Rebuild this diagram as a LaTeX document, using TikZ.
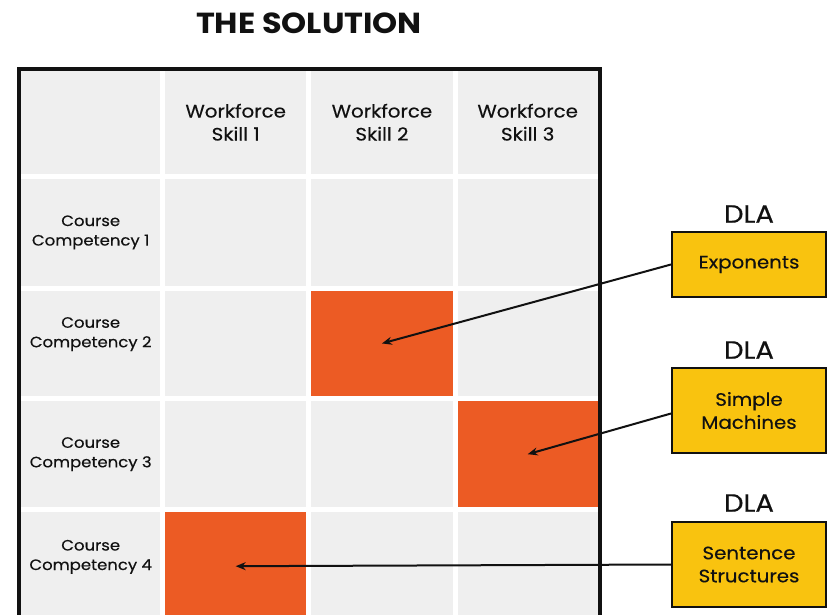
\documentclass[tikz,border=0pt]{standalone}
\usepackage{fontspec}
\setmainfont{Poppins}[FakeStretch=1.1,FakeBold=0.35]
\newfontfamily\titlefont{Poppins}[FakeStretch=1.1]
\usetikzlibrary{arrows.meta}
\definecolor{cellgrey}{HTML}{EFEFEF}
\definecolor{hot}{HTML}{EC5B24}
\definecolor{dlayellow}{HTML}{F9C30F}
\definecolor{ink}{HTML}{111111}
\begin{document}
\begin{tikzpicture}[x=1pt,y=-1pt,
  cell/.style={draw=none,fill=cellgrey,inner sep=0pt,anchor=north west,text=ink,align=center},
  hotcell/.style={cell,fill=hot},
  hdr/.style={font=\fontsize{18}{23}\selectfont},
  rowlab/.style={font=\fontsize{15}{19.5}\selectfont},
  dlabox/.style={draw=ink,line width=2pt,fill=dlayellow,minimum width=154pt,inner sep=0pt,align=center,text=ink,font=\fontsize{18}{23}\selectfont},
  dlalab/.style={text=ink,font=\fontsize{25}{28}\selectfont,inner sep=0pt},
  link/.style={draw=ink,line width=2pt,-{Stealth[length=10pt,width=8pt]}}]
\useasboundingbox (0,0) rectangle (829,615);
\clip (0,0) rectangle (829,615);
% title
\node[text=ink,font=\titlefont\bfseries\fontsize{29}{32}\selectfont,inner sep=0pt] (title) at (309,23) {THE SOLUTION};
% header row
\node[cell,minimum width=139pt,minimum height=104pt] (h0) at (21,70) {};
\node[cell,hdr,minimum width=141pt,minimum height=104pt] (h1) at (165,70) {Workforce\\Skill 1};
\node[cell,hdr,minimum width=141.5pt,minimum height=104pt] (h2) at (311,70) {Workforce\\Skill 2};
\node[cell,hdr,minimum width=140pt,minimum height=104pt] (h3) at (457.5,70) {Workforce\\Skill 3};
% row 1
\node[cell,rowlab,minimum width=139pt,minimum height=106.5pt] (r1) at (21,179) {Course\\Competency 1};
\node[cell,minimum width=141pt,minimum height=106.5pt] (c11) at (165,179) {};
\node[cell,minimum width=141.5pt,minimum height=106.5pt] (c12) at (311,179) {};
\node[cell,minimum width=140pt,minimum height=106.5pt] (c13) at (457.5,179) {};
% row 2
\node[cell,rowlab,minimum width=139pt,minimum height=105.5pt] (r2) at (21,290.5) {Course\\Competency 2\\[3pt]};
\node[cell,minimum width=141pt,minimum height=105.5pt] (c21) at (165,290.5) {};
\node[hotcell,minimum width=141.5pt,minimum height=105.5pt] (c22) at (311,290.5) {};
\node[cell,minimum width=140pt,minimum height=105.5pt] (c23) at (457.5,290.5) {};
% row 3
\node[cell,rowlab,minimum width=139pt,minimum height=106pt] (r3) at (21,401) {Course\\Competency 3};
\node[cell,minimum width=141pt,minimum height=106pt] (c31) at (165,401) {};
\node[cell,minimum width=141.5pt,minimum height=106pt] (c32) at (311,401) {};
\node[hotcell,minimum width=140pt,minimum height=106pt] (c33) at (457.5,401) {};
% row 4
\node[cell,rowlab,minimum width=139pt,minimum height=108pt] (r4) at (21,512) {Course\\Competency 4\\[3pt]};
\node[hotcell,minimum width=141pt,minimum height=108pt] (c41) at (165,512) {};
\node[cell,minimum width=141.5pt,minimum height=108pt] (c42) at (311,512) {};
\node[cell,minimum width=140pt,minimum height=108pt] (c43) at (457.5,512) {};
% frame
\draw[ink,line width=4pt] (19,630) -- (19,68.7) -- (599.5,68.7) -- (599.5,630);
% DLA boxes
\node[dlalab] (d1) at (749,214) {DLA};
\node[dlabox,minimum height=65pt] (b1) at (749,264.5) {Exponents};
\node[dlalab] (d2) at (749,350) {DLA};
\node[dlabox,minimum height=85pt] (b2) at (749,410.5) {Simple\\Machines};
\node[dlalab] (d3) at (749,503) {DLA};
\node[dlabox,minimum height=85pt] (b3) at (749,564.5) {Sentence\\Structures};
% connectors
\draw[link] (b1.west) -- (c22.center);
\draw[link] ([yshift=-3pt]b2.west) -- (c33.center);
\draw[link] (b3.west) -- (c41.center);
\end{tikzpicture}
\end{document}
